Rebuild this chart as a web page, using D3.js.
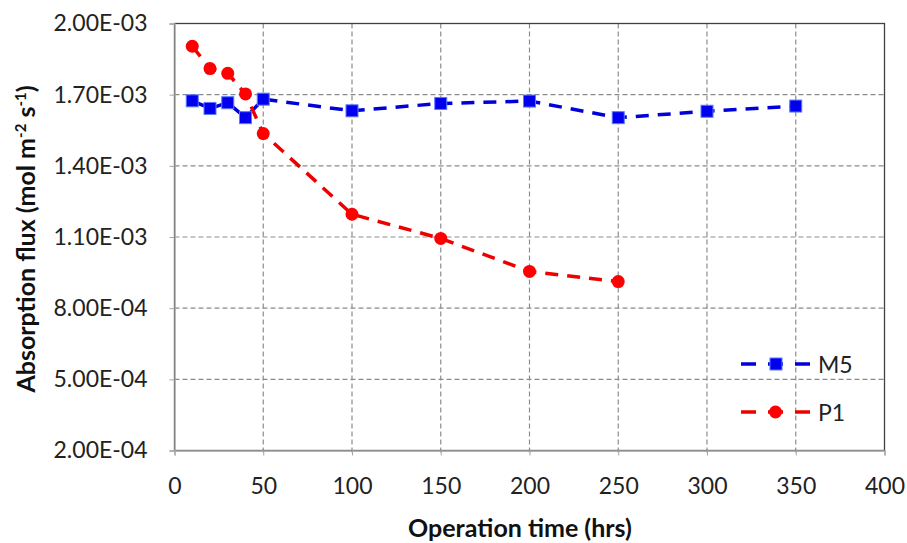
<!DOCTYPE html>
<html>
<head>
<meta charset="utf-8">
<script src="https://cdn.jsdelivr.net/npm/d3@7"></script>
<style>
  body { margin: 0; background: #fff; }
  text { font-family: Lato, "Open Sans", sans-serif; }
</style>
</head>
<body>
<svg id="chart"></svg>
<script>
// data
var hoursM5 = [10, 20, 30, 40, 50, 100, 150, 200, 250, 300, 350];
var fluxM5 = [1.674e-3, 1.642e-3, 1.666e-3, 1.603e-3, 1.681e-3, 1.632e-3, 1.663e-3, 1.673e-3, 1.603e-3, 1.630e-3, 1.652e-3];
var hoursP1 = [10, 20, 30, 40, 50, 100, 150, 200, 250];
var fluxP1 = [1.904e-3, 1.81e-3, 1.79e-3, 1.703e-3, 1.536e-3, 1.196e-3, 1.094e-3, 0.955e-3, 0.912e-3];
var xTicks = [0, 50, 100, 150, 200, 250, 300, 350, 400];
var yTicks = [2e-4, 5e-4, 8e-4, 1.1e-3, 1.4e-3, 1.7e-3, 2e-3];
var seriesNames = ["M5", "P1"];

var width = 907, height = 543;
var svg = d3.select("#chart").attr("width", width).attr("height", height);

var pLeft = 174.5, pRight = 884.5, pTop = 23.5, pBottom = 450.5;
var x = d3.scaleLinear().domain([0, 400]).range([pLeft, pRight]);
var y = d3.scaleLinear().domain([2e-4, 2e-3]).range([pBottom, pTop]);

// grid
svg.append("g").selectAll("line.v")
  .data(xTicks.slice(1, -1))
  .enter().append("line")
  .attr("x1", d => x(d)).attr("x2", d => x(d))
  .attr("y1", pTop).attr("y2", pBottom + 5)
  .style("stroke", "#8c8c8c").style("stroke-width", 1.2)
  .style("stroke-dasharray", "5,3");
svg.append("g").selectAll("line.h")
  .data(yTicks.slice(1, -1))
  .enter().append("line")
  .attr("x1", pLeft).attr("x2", pRight)
  .attr("y1", d => y(d)).attr("y2", d => y(d))
  .style("stroke", "#8c8c8c").style("stroke-width", 1.2)
  .style("stroke-dasharray", "5,3");

// plot border
svg.append("rect")
  .attr("x", pLeft).attr("y", pTop)
  .attr("width", pRight - pLeft).attr("height", pBottom - pTop)
  .style("fill", "none").style("stroke", "#404040").style("stroke-width", 1.3);

// axes
var yAxis = d3.axisLeft(y).tickValues(yTicks).tickSize(5).tickPadding(22)
  .tickFormat(d => d.toExponential(2).toUpperCase().replace(/E([+-])(\d)$/, "E$10$2"));
var gy = svg.append("g").attr("transform", "translate(" + pLeft + ",0)").call(yAxis);
gy.select(".domain").style("stroke", "#a6a6a6").style("stroke-width", 1.3);
gy.selectAll(".tick line").style("stroke", "#a6a6a6");
gy.selectAll("text").style("font-size", "23px").style("fill", "#222")
  .style("font-family", "Lato, sans-serif");

var xAxis = d3.axisBottom(x).tickValues(xTicks).tickSize(5).tickPadding(22);
var gx = svg.append("g").attr("transform", "translate(0," + pBottom + ")").call(xAxis);
gx.select(".domain").style("stroke", "#a6a6a6").style("stroke-width", 1.3);
gx.selectAll(".tick line").style("stroke", "#a6a6a6");
gx.selectAll("text").style("font-size", "23px").style("fill", "#222")
  .style("font-family", "Lato, sans-serif");

// titles
svg.append("text")
  .attr("x", 520).attr("y", 537)
  .attr("text-anchor", "middle")
  .style("font-size", "25px").style("font-weight", "bold").style("fill", "#111")
  .text("Operation time (hrs)");

var yt = svg.append("text")
  .attr("transform", "translate(35,239) rotate(-90)")
  .attr("text-anchor", "middle")
  .style("font-size", "25px").style("font-weight", "bold").style("fill", "#111");
yt.append("tspan").text("Absorption flux (mol m");
yt.append("tspan").attr("dy", -9).style("font-size", "15px").text("-2");
yt.append("tspan").attr("dy", 9).text(" s");
yt.append("tspan").attr("dy", -9).style("font-size", "15px").text("-1");
yt.append("tspan").attr("dy", 9).text(")");

// series
var line = d3.line().x(d => x(d[0])).y(d => y(d[1]));
var m5 = d3.zip(hoursM5, fluxM5);
var p1 = d3.zip(hoursP1, fluxP1);

svg.append("path").datum(m5).attr("d", line)
  .style("fill", "none").style("stroke", "#0000d8").style("stroke-width", 3.5)
  .style("stroke-dasharray", "13,9");
svg.append("path").datum(p1).attr("d", line)
  .style("fill", "none").style("stroke", "#ee0000").style("stroke-width", 3.5)
  .style("stroke-dasharray", "13,9");

svg.append("g").selectAll("rect")
  .data(m5).enter().append("rect")
  .attr("x", d => x(d[0]) - 6).attr("y", d => y(d[1]) - 6)
  .attr("width", 12).attr("height", 12)
  .style("fill", "#0000ee").style("stroke", "#5b7bff").style("stroke-width", 1);
svg.append("g").selectAll("circle")
  .data(p1).enter().append("circle")
  .attr("cx", d => x(d[0])).attr("cy", d => y(d[1])).attr("r", 6.5)
  .style("fill", "#ff0000");

// legend
var legendY = [364, 412];
var colors = ["#0000d8", "#ee0000"];
var lg = svg.append("g").selectAll("g")
  .data(seriesNames).enter().append("g")
  .attr("transform", (d, i) => "translate(741," + legendY[i] + ")");
lg.append("line").attr("x1", 0).attr("x2", 69).attr("y1", 0).attr("y2", 0)
  .style("stroke", (d, i) => colors[i]).style("stroke-width", 3.5)
  .style("stroke-dasharray", "15,12,15,12");
lg.filter((d, i) => i === 0).append("rect")
  .attr("x", 29).attr("y", -6).attr("width", 12).attr("height", 12)
  .style("fill", "#0000ee").style("stroke", "#5b7bff");
lg.filter((d, i) => i === 1).append("circle")
  .attr("cx", 34.5).attr("cy", 0).attr("r", 6.5).style("fill", "#ff0000");
lg.append("text").attr("x", 77).attr("y", 8.5)
  .style("font-size", "23px").style("fill", "#222")
  .text(d => d);
</script>
</body>
</html>
